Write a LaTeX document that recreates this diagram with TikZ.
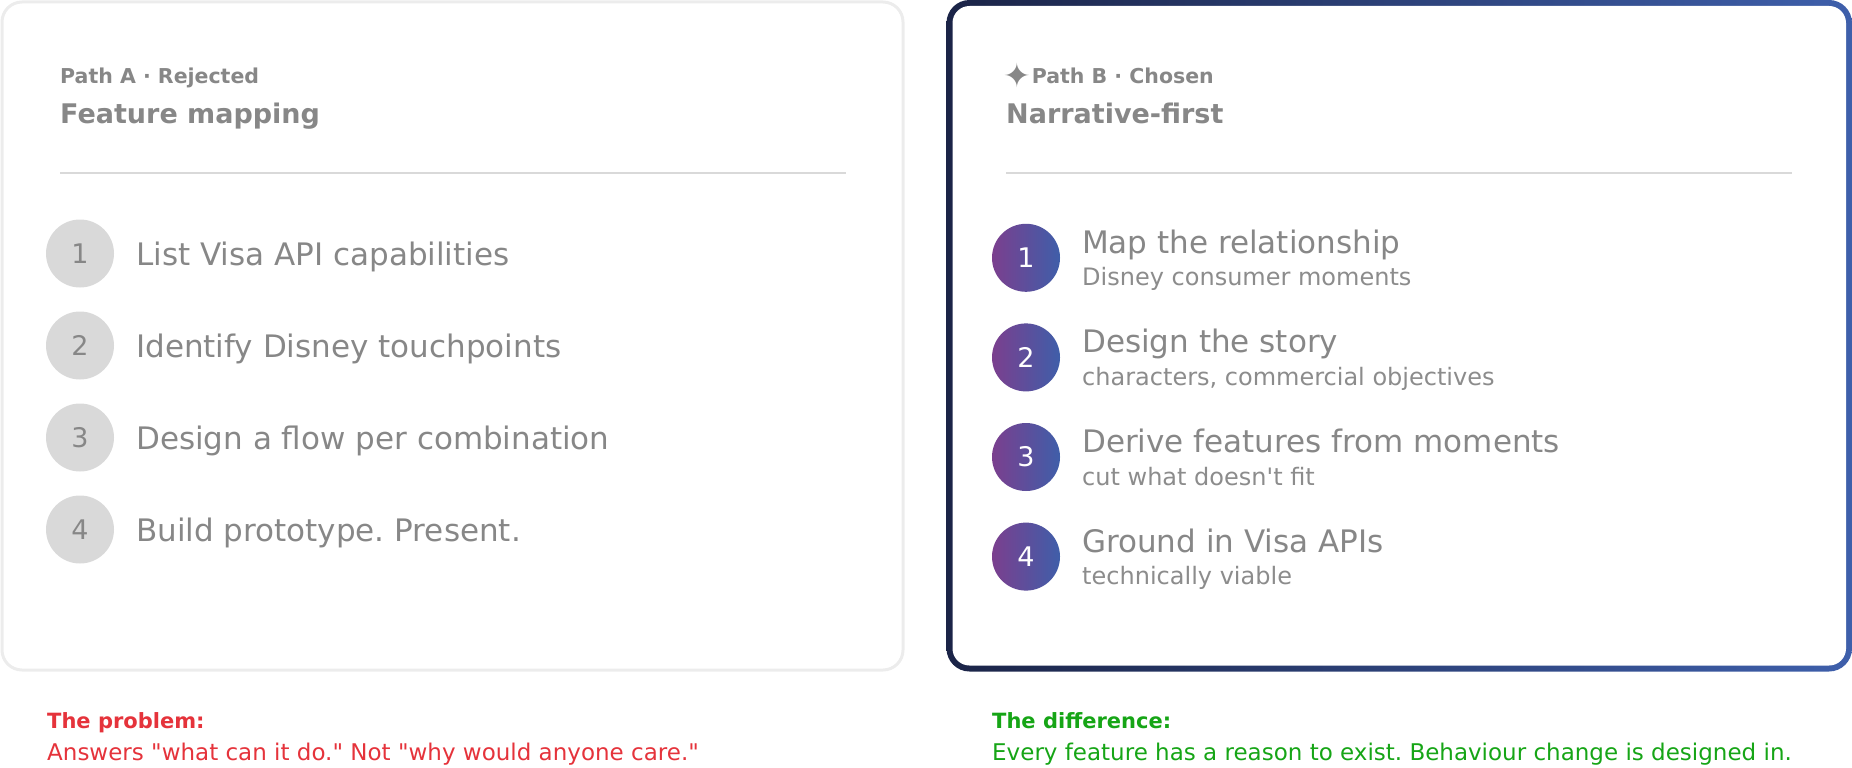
\documentclass[tikz,border=0pt]{standalone}
\usepackage{fontspec}
\setmainfont{DejaVu Sans}[Ligatures=TeXOff]
\definecolor{txtgray}{HTML}{878787}
\definecolor{subgray}{HTML}{8C8C8C}
\definecolor{bordergray}{HTML}{ECECEC}
\definecolor{divgray}{HTML}{D9D9D9}
\definecolor{circgray}{HTML}{D9D9D9}
\definecolor{navy}{HTML}{1B2447}
\definecolor{steel}{HTML}{3E5FAB}
\definecolor{purp}{HTML}{7B3F8E}
\definecolor{blu}{HTML}{3F5EA9}
\definecolor{probred}{HTML}{E5333B}
\definecolor{diffgreen}{HTML}{16A516}
\newcommand{\fsz}[1]{\fontsize{#1}{#1}\selectfont}
\frenchspacing
\begin{document}
\begin{tikzpicture}[x=1pt,y=-1pt,
  kicker/.style={anchor=base west, text=txtgray, font=\bfseries\fsz{20.5}, inner sep=0pt},
  heading/.style={anchor=base west, text=txtgray, font=\bfseries\fsz{27}, inner sep=0pt},
  itemtext/.style={anchor=base west, text=txtgray, font=\fsz{31}, inner sep=0pt},
  subtext/.style={anchor=base west, text=subgray, font=\fsz{24}, inner sep=0pt},
  numA/.style={circle, minimum size=68pt, inner sep=0pt, fill=circgray, text=txtgray, font=\fsz{27}},
  numB/.style={circle, minimum size=68pt, inner sep=0pt, left color=purp, right color=blu, text=white, font=\fsz{27}},
  divider/.style={draw=divgray, line width=2pt},
  notehead/.style={anchor=base west, font=\bfseries\fsz{21}, inner sep=0pt},
  notebody/.style={anchor=base west, font=\fsz{23}, inner sep=0pt}
]
\useasboundingbox (0,0) rectangle (1852,768);

% Path A panel
\node[draw=bordergray, line width=3pt, rounded corners=20pt, minimum width=901pt, minimum height=668pt, inner sep=0pt] (panelA) at (452.5,336) {};

% Path B panel (gradient border)
\node[rounded corners=23pt, minimum width=905.5pt, minimum height=671.5pt, inner sep=0pt, left color=navy, right color=steel] (panelBout) at (1399.25,335.75) {};
\node[rounded corners=17pt, minimum width=893.5pt, minimum height=659.5pt, inner sep=0pt, fill=white] (panelB) at (1399.25,335.75) {};

% Headers A
\node[kicker] (kA) at (60,83) {Path A · Rejected};
\node[heading] (hA) at (60,123) {Feature mapping};
\coordinate (dA1) at (60,172.5);
\coordinate (dA2) at (846,172.5);
\draw[divider] (dA1) -- (dA2);

% Headers B
\node[kicker] (kB) at (1003,83) {{\mdseries\fsz{33}\raisebox{-5pt}{✦}}\hspace{1pt}Path B · Chosen};
\node[heading] (hB) at (1006,123) {Narrative-first};
\coordinate (dB1) at (1006,172.5);
\coordinate (dB2) at (1792,172.5);
\draw[divider] (dB1) -- (dB2);

% Steps A
\node[numA] (nA1) at (80,253.5) {1};
\node[itemtext] (tA1) at (136,265) {List Visa API capabilities};
\node[numA] (nA2) at (80,345.5) {2};
\node[itemtext] (tA2) at (136,357) {Identify Disney touchpoints};
\node[numA] (nA3) at (80,437.5) {3};
\node[itemtext] (tA3) at (136,449) {Design a flow per combination};
\node[numA] (nA4) at (80,529.5) {4};
\node[itemtext] (tA4) at (136,541) {Build prototype. Present.};

% Steps B
\node[numB] (nB1) at (1026,257.8) {1};
\node[itemtext] (tB1) at (1082,253.3) {Map the relationship};
\node[subtext] (sB1) at (1082,285.8) {Disney consumer moments};
\node[numB] (nB2) at (1026,357.4) {2};
\node[itemtext] (tB2) at (1082,352.9) {Design the story};
\node[subtext] (sB2) at (1082,385.4) {characters, commercial objectives};
\node[numB] (nB3) at (1026,457) {3};
\node[itemtext] (tB3) at (1082,452.5) {Derive features from moments};
\node[subtext] (sB3) at (1082,485) {cut what doesn't fit};
\node[numB] (nB4) at (1026,556.6) {4};
\node[itemtext] (tB4) at (1082,552.1) {Ground in Visa APIs};
\node[subtext] (sB4) at (1082,584.6) {technically viable};

% Notes
\node[notehead, text=probred] (pH) at (47,728) {The problem:};
\node[notebody, text=probred] (pB) at (47,760) {Answers "what can it do." Not "why would anyone care."};
\node[notehead, text=diffgreen] (dH) at (992,728) {The difference:};
\node[notebody, text=diffgreen] (dBd) at (992,760) {Every feature has a reason to exist. Behaviour change is designed in.};
\end{tikzpicture}
\end{document}
